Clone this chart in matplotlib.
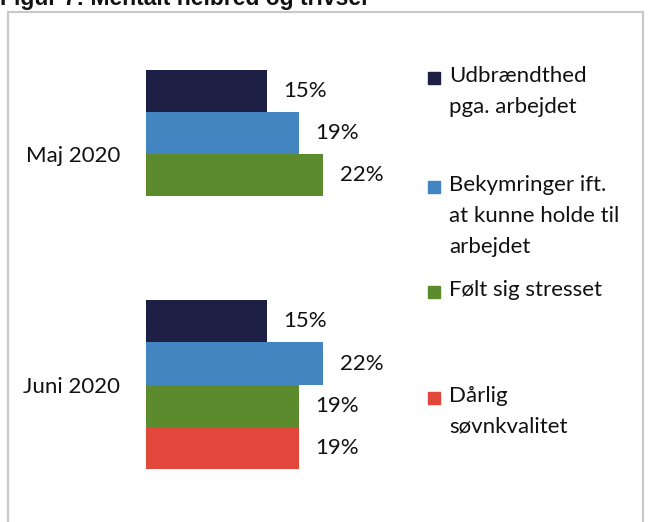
import matplotlib.pyplot as plt
import numpy as np
from matplotlib.patches import Rectangle

# data
months = ['Maj 2020', 'Juni 2020']
series = ['Udbrændthed\npga. arbejdet',
          'Bekymringer ift.\nat kunne holde til\narbejdet',
          'Følt sig stresset',
          'Dårlig\nsøvnkvalitet']
udbraendthed = [15, 15]
bekymringer = [19, 22]
stresset = [22, 19]
soevn = [np.nan, 19]   # only asked in June
values = [udbraendthed, bekymringer, stresset, soevn]
colors = ['#1d1f45', '#4285c0', '#5b8b2d', '#e1483b']

plt.rcParams['font.family'] = ['Lato', 'DejaVu Sans']
txt = '#111111'

W, H = 649, 522
fig = plt.figure(figsize=(W / 100, H / 100), dpi=100)

# grey frame of the scanned figure
fig.patches.append(Rectangle((8 / W, -0.05), 635 / W, 1.05 - 12 / H,
                             transform=fig.transFigure, fill=False,
                             edgecolor='#c9c9c9', lw=1.6))
# title is cut off at the top in the scan
fig.text(0.0, 1 - 5 / H, 'Figur 7: Mentalt helbred og trivsel',
         family='Liberation Sans', weight='bold', fontsize=16.5,
         va='baseline', ha='left', color=txt)

ax = fig.add_axes([146 / W, 0, 242 / W, 1])
h = 42 / 230
y = np.arange(len(months))
for i, (vals, c) in enumerate(zip(values, colors)):
    pos = y + (i - 1.5) * h
    ax.barh(pos, vals, height=h, color=c, align='center')
    for p, v in zip(pos, vals):
        if not np.isnan(v):
            ax.text(v + 2.0, p, '%d%%' % v, va='center', ha='left',
                    fontsize=16, color=txt)

ax.set_xlim(0, 30)
ax.set_ylim(1 + 137 / 230, -153.5 / 230)
ax.set_yticks(y)
ax.set_yticklabels(months, fontsize=16, color=txt)
ax.tick_params(axis='y', length=0, pad=18.5)
ax.set_xticks([])
for s in ax.spines.values():
    s.set_visible(False)
ax.patch.set_alpha(0)

# legend, laid out like the original
leg_y = [78, 187, 292, 398]
for lab, c, ly in zip(series, colors, leg_y):
    fig.patches.append(Rectangle((428 / W, 1 - (ly + 6) / H), 12 / W, 12 / H,
                                 transform=fig.transFigure, color=c))
    fig.text(449 / W, 1 - (ly - 12) / H, lab, fontsize=16, va='top',
             ha='left', linespacing=1.68, color=txt)

fig.savefig('out.png', dpi=100)
